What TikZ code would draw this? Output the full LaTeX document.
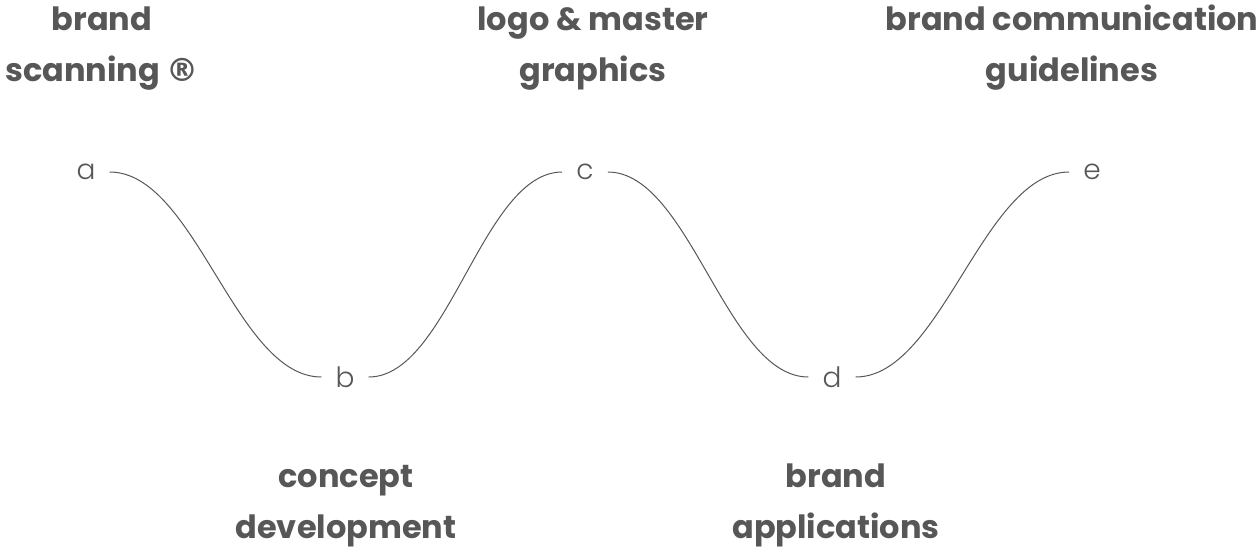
\documentclass[tikz,border=0pt]{standalone}
\usepackage{fontspec}
\setmainfont{Poppins}
\newfontfamily\lightfont{Poppins}[UprightFont=* Light]
\newfontfamily\symfont{DejaVu Sans}
\usetikzlibrary{calc}
\definecolor{ink}{HTML}{575757}
\tikzset{
  title/.style={font=\fontsize{32}{51}\selectfont\bfseries, text=ink, align=center, inner sep=0pt, anchor=base},
  letter/.style={font=\lightfont\fontsize{28}{30}\selectfont, text=ink, inner xsep=14pt, inner ysep=0pt},
  wave/.style={draw=ink, line width=1pt}
}
\begin{document}
\begin{tikzpicture}[x=1pt,y=1pt]
\useasboundingbox (0,0) rectangle (1259,-547);
\node[title] (t1) at (102,-81) {brand\\scanning {\symfont\bfseries\textregistered}};
\node[title] (t2) at (593,-81) {logo \& master\\graphics};
\node[title] (t3) at (1072,-81) {brand communication\\guidelines};
\node[title] (t4) at (346,-538) {concept\\development};
\node[title] (t5) at (836,-538) {brand\\applications};
\node[letter] (a) at (86,-172) {a};
\node[letter] (b) at (345,-377) {b};
\node[letter] (c) at (585,-172) {c};
\node[letter] (d) at (832,-377) {d};
\node[letter] (e) at (1092,-172) {e};
\draw[wave] (a.east) .. controls ($(a.east)+(86,0)$) and ($(b.west)-(86,0)$) .. (b.west);
\draw[wave] (b.east) .. controls ($(b.east)+(80,0)$) and ($(c.west)-(80,0)$) .. (c.west);
\draw[wave] (c.east) .. controls ($(c.east)+(82,0)$) and ($(d.west)-(82,0)$) .. (d.west);
\draw[wave] (d.east) .. controls ($(d.east)+(86,0)$) and ($(e.west)-(86,0)$) .. (e.west);
\end{tikzpicture}
\end{document}
